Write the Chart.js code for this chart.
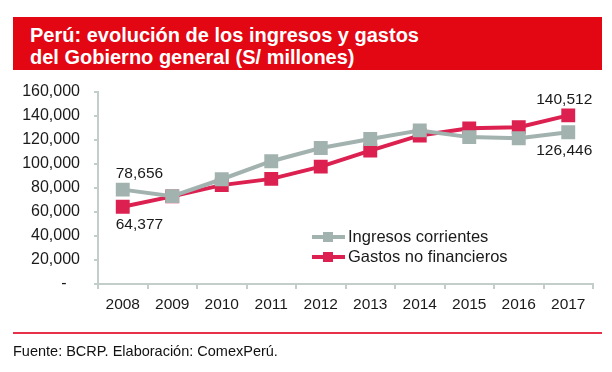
<!DOCTYPE html>
<html>
<head>
<meta charset="utf-8">
<script src="https://cdn.jsdelivr.net/npm/chart.js@4"></script>
<style>
  body { margin: 0; background: #fff; font-family: "Liberation Sans", Arial, sans-serif; }
  #wrap { position: relative; width: 612px; height: 372px; overflow: hidden; }
  #chart { position: absolute; left: 0; top: 0; }
  #title {
    position: absolute; left: 13px; top: 17px; width: 572px;
    padding-left: 17px; padding-top: 7px; height: 46px; background: #e30613; color: #fff;
    font-weight: bold; font-size: 20px; line-height: 22px;
  }
  #rule { position: absolute; left: 13px; top: 332px; width: 589px; height: 2px; background: #e8304a; }
  #source { position: absolute; left: 13px; top: 343px; font-size: 14.5px; color: #111; }
</style>
</head>
<body>
<div id="wrap">
  <canvas id="chart" width="612" height="372"></canvas>
  <div id="title">Perú: evolución de los ingresos y gastos<br>del Gobierno general (S/ millones)</div>
  <div id="rule"></div>
  <div id="source">Fuente: BCRP. Elaboración: ComexPerú.</div>
</div>
<script>
// data
const years = ['2008', '2009', '2010', '2011', '2012', '2013', '2014', '2015', '2016', '2017'];
const ingresos = [78656, 73200, 87300, 102300, 113300, 120800, 128000, 122400, 121500, 126446];
const gastos = [64377, 73000, 82400, 87600, 97800, 111200, 123800, 129700, 130700, 140512];
const yTicks = [0, 20000, 40000, 60000, 80000, 100000, 120000, 140000, 160000];

const grey = '#a2b2af';
const red = '#dc2151';
const axisColor = '#c3cdca';
const textColor = '#1a1a1a';
const font = '"Liberation Sans", Arial, sans-serif';

// value labels at the ends of the series: [dataset, index, above?]
const endLabels = [[0, 0, true], [1, 0, false], [1, 9, true], [0, 9, false]];

const extras = {
  id: 'extras',
  afterDatasetsDraw(chart) {
    const ctx = chart.ctx;
    ctx.save();
    ctx.font = '15.5px ' + font;
    ctx.fillStyle = textColor;
    ctx.textBaseline = 'middle';
    endLabels.forEach(([d, i, above]) => {
      const pt = chart.getDatasetMeta(d).data[i];
      const v = chart.data.datasets[d].data[i];
      const first = i === 0;
      ctx.textAlign = first ? 'left' : 'right';
      ctx.fillText(v.toLocaleString('en-US'), first ? pt.x - 7 : pt.x + 24, pt.y + (above ? -16 : 18));
    });

    // legend: line with a square in the middle
    ctx.font = '16.5px ' + font;
    chart.data.datasets.forEach((ds, k) => {
      const y = 237 + k * 20;
      ctx.strokeStyle = ds.borderColor;
      ctx.lineWidth = 4;
      ctx.beginPath();
      ctx.moveTo(312, y);
      ctx.lineTo(345, y);
      ctx.stroke();
      ctx.fillStyle = ds.borderColor;
      ctx.fillRect(323, y - 5, 10, 10);
      ctx.fillStyle = textColor;
      ctx.textAlign = 'left';
      ctx.fillText(ds.label, 348, y);
    });
    ctx.restore();
  }
};

new Chart(document.getElementById('chart'), {
  type: 'line',
  data: {
    labels: years,
    datasets: [
      {
        label: 'Ingresos corrientes',
        data: ingresos,
        borderColor: grey,
        backgroundColor: grey,
        borderWidth: 4,
        pointStyle: 'rect',
        pointRadius: 7,
        pointHoverRadius: 7
      },
      {
        label: 'Gastos no financieros',
        data: gastos,
        borderColor: red,
        backgroundColor: red,
        borderWidth: 4,
        pointStyle: 'rect',
        pointRadius: 7,
        pointHoverRadius: 7
      }
    ]
  },
  options: {
    responsive: false,
    animation: false,
    layout: { padding: { left: 0, top: 92, right: 19, bottom: 58 } },
    plugins: { legend: { display: false }, tooltip: { enabled: false } },
    scales: {
      x: {
        offset: true,
        grid: { offset: true, drawOnChartArea: false, color: axisColor, tickLength: 5, lineWidth: 2 },
        border: { color: axisColor, width: 2 },
        ticks: { color: textColor, font: { family: font, size: 15.5 }, padding: 6, maxRotation: 0 },
        afterFit: s => { s.height = 30; }
      },
      y: {
        min: 0,
        max: 160000,
        afterBuildTicks: s => { s.ticks = yTicks.map(v => ({ value: v })); },
        grid: { drawOnChartArea: false, color: axisColor, tickLength: 4, lineWidth: 2 },
        border: { color: axisColor, width: 2 },
        ticks: {
          color: textColor,
          font: { family: font, size: 16 },
          padding: 14,
          callback: v => v === 0 ? '-   ' : v.toLocaleString('en-US')
        },
        afterFit: s => { s.width = 98; }
      }
    }
  },
  plugins: [extras]
});
</script>
</body>
</html>
